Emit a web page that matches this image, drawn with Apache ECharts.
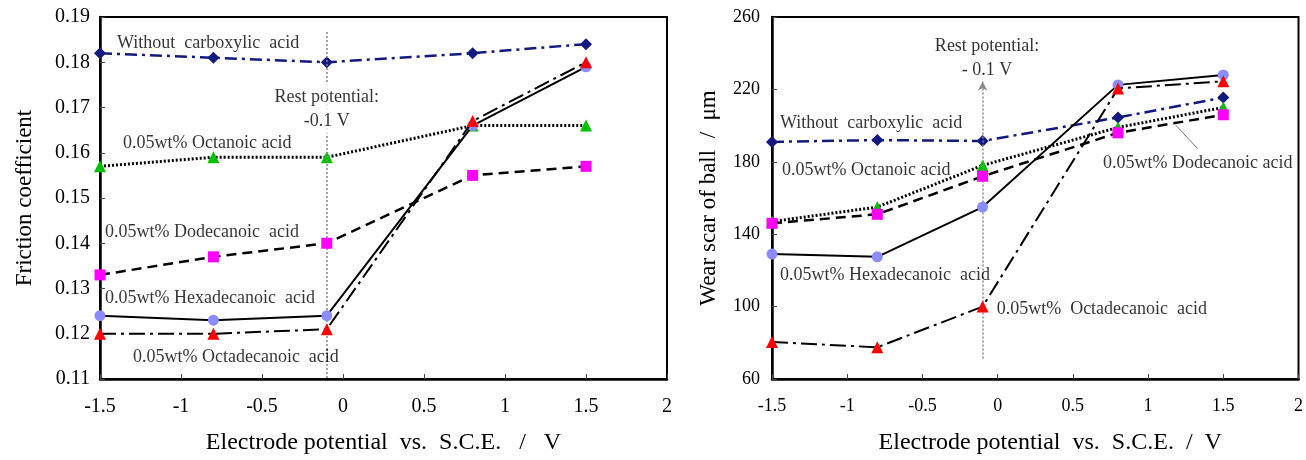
<!DOCTYPE html>
<html>
<head>
<meta charset="utf-8">
<script src="https://cdn.jsdelivr.net/npm/echarts@6/dist/echarts.min.js"></script>
<style>
html, body { margin: 0; padding: 0; background: #fff; }
#chart { width: 1306px; height: 460px; }
</style>
</head>
<body>
<div id="chart"></div>
<script>
// electrode potentials (V vs. S.C.E.)
const potentials = [-1.5, -0.8, -0.1, 0.8, 1.5];

// friction coefficient
const fricWithout = [0.182, 0.181, 0.180, 0.182, 0.184];
const fricOctanoic = [0.157, 0.159, 0.159, 0.166, 0.166];
const fricDodecanoic = [0.133, 0.137, 0.140, 0.155, 0.157];
const fricHexadecanoic = [0.124, 0.123, 0.124, 0.166, 0.179];
const fricOctadecanoic = [0.120, 0.120, 0.121, 0.167, 0.180];

// wear scar of ball (um)
const wearWithout = [191, 192, 191.5, 204.5, 215.5];
const wearOctanoic = [147, 155, 178, 199, 210];
const wearDodecanoic = [146, 151, 172, 196, 206];
const wearHexadecanoic = [129, 127.5, 155, 222.5, 228];
const wearOctadecanoic = [80.5, 77.5, 100, 220.5, 224.5];

const xTicks = [-1.5, -1, -0.5, 0, 0.5, 1, 1.5, 2];
const fricTicks = [0.11, 0.12, 0.13, 0.14, 0.15, 0.16, 0.17, 0.18, 0.19];
const wearTicks = [60, 100, 140, 180, 220, 260];

const restPotential = -0.1;

// annotation anchors [x, y, text, align] in data units
const fricNotes = [
  [-1.407, 0.1843, 'Without  carboxylic  acid', 'left'],
  [-0.1, 0.1697, 'Rest potential:\n-0.1 V', 'center'],
  [-1.370, 0.1621, '0.05wt% Octanoic acid', 'left'],
  [-1.481, 0.1425, '0.05wt% Dodecanoic  acid', 'left'],
  [-1.481, 0.1279, '0.05wt% Hexadecanoic  acid', 'left'],
  [-1.309, 0.1148, '0.05wt% Octadecanoic  acid', 'left']
];
const wearNotes = [
  [-0.07, 237.4, 'Rest potential:\n- 0.1 V', 'center'],
  [-1.46, 201.2, 'Without  carboxylic  acid', 'left'],
  [-1.447, 175.4, '0.05wt% Octanoic acid', 'left'],
  [-1.46, 117.1, '0.05wt% Hexadecanoic  acid', 'left'],
  [-0.02, 98.3, '0.05wt%  Octadecanoic  acid', 'left'],
  [0.687, 179.1, '0.05wt% Dodecanoic acid', 'left']
];
const dodecLeader = [[1.185, 200.2], [1.33, 187.2]];
const restArrow = [[restPotential, 71.3], [restPotential, 224.4]];
const restDotted = [[restPotential, 0.1867], [restPotential, 0.11]];

const FONT = 'Liberation Serif';
const NAVY = '#121a80';

const pair = arr => potentials.map((x, i) => [x, arr[i]]);

const styles = [
  { symbol: 'diamond', size: 12, fill: NAVY, line: NAVY, type: [12, 5, 3, 5], width: 2.5 },
  { symbol: 'triangle', size: 12, fill: '#00c000', line: '#000', type: [2, 2], width: 3 },
  { symbol: 'rect', size: 11, fill: '#ff00ff', line: '#000', type: [10, 6], width: 2.5 },
  { symbol: 'circle', size: 11, fill: '#8a8cff', line: '#000', type: 'solid', width: 2 },
  { symbol: 'triangle', size: 12, fill: '#ff0000', line: '#000', type: [16, 5, 3, 5], width: 2 }
];

const makeLines = (sets, idx) => sets.map((arr, i) => ({
  type: 'line',
  xAxisIndex: idx,
  yAxisIndex: idx,
  data: pair(arr),
  symbol: styles[i].symbol,
  symbolSize: styles[i].size,
  showSymbol: true,
  z: 3 + i,
  itemStyle: { color: styles[i].fill, borderColor: styles[i].fill, borderWidth: 0, opacity: 1 },
  lineStyle: { color: styles[i].line, width: styles[i].width, type: styles[i].type }
}));

const makeNotes = (notes, idx, withBg) => ({
  type: 'scatter',
  xAxisIndex: idx,
  yAxisIndex: idx,
  symbolSize: 0,
  z: 20,
  silent: true,
  data: notes.map(n => ({
    value: [n[0], n[1]],
    label: {
      show: true,
      position: 'inside',
      align: n[3],
      verticalAlign: 'middle',
      formatter: n[2],
      fontFamily: FONT,
      fontSize: 18,
      lineHeight: 24,
      color: '#000',
      textBorderWidth: 0,
      backgroundColor: (withBg && n[3] === 'center') ? '#fff' : 'transparent',
      padding: [1, 2]
    }
  }))
});

const xAxisBase = idx => ({
  type: 'value',
  gridIndex: idx,
  min: -1.5,
  max: 2,
  interval: 0.5,
  name: idx === 0 ? 'Electrode potential  vs.  S.C.E.   /   V' : 'Electrode potential  vs.  S.C.E.  /  V',
  nameLocation: 'middle',
  nameGap: 52,
  nameTextStyle: { fontFamily: FONT, fontSize: 24, color: '#000', padding: idx === 0 ? 0 : [0, 0, 0, 30] },
  axisLine: { show: true, onZero: false, lineStyle: { color: '#000', width: 2.5 } },
  axisTick: { show: true, inside: true, length: 5, lineStyle: { color: '#444' }, customValues: xTicks },
  axisLabel: { fontFamily: FONT, fontSize: idx === 0 ? 20 : 18, color: '#000', margin: 18, customValues: xTicks },
  splitLine: { show: false }
});

const chart = echarts.init(document.getElementById('chart'));
chart.setOption({
  animation: false,
  backgroundColor: '#fff',
  grid: [
    { left: 100, top: 17, width: 567, height: 367, show: true, borderColor: '#000', borderWidth: 2, backgroundColor: 'transparent' },
    { left: 772, top: 17, width: 528, height: 371, show: true, borderColor: '#000', borderWidth: 2, backgroundColor: 'transparent' }
  ],
  xAxis: [xAxisBase(0), xAxisBase(1)],
  yAxis: [
    {
      type: 'value',
      gridIndex: 0,
      min: 0.11,
      max: 0.19,
      name: 'Friction coefficient',
      nameLocation: 'middle',
      nameGap: 64,
      nameTextStyle: { fontFamily: FONT, fontSize: 23, color: '#000' },
      axisLine: { show: true, onZero: false, lineStyle: { color: '#000', width: 2.5 } },
      axisTick: { show: true, inside: true, length: 5, lineStyle: { color: '#444' }, customValues: fricTicks },
      axisLabel: { fontFamily: FONT, fontSize: 20, color: '#000', margin: 10, customValues: fricTicks, formatter: v => v.toFixed(2) },
      splitLine: { show: false }
    },
    {
      type: 'value',
      gridIndex: 1,
      min: 60,
      max: 260,
      interval: 40,
      name: 'Wear scar of ball  /  \u03bcm',
      nameLocation: 'middle',
      nameGap: 52,
      nameTextStyle: { fontFamily: FONT, fontSize: 23, color: '#000' },
      axisLine: { show: true, onZero: false, lineStyle: { color: '#000', width: 2.5 } },
      axisTick: { show: true, inside: true, length: 5, lineStyle: { color: '#444' }, customValues: wearTicks },
      axisLabel: { fontFamily: FONT, fontSize: 18, color: '#000', margin: 12, customValues: wearTicks },
      splitLine: { show: false }
    }
  ],
  series: [
    // guide lines at the rest potential
    {
      type: 'line', xAxisIndex: 0, yAxisIndex: 0, data: [], z: 1,
      markLine: {
        silent: true, symbol: 'none', label: { show: false },
        lineStyle: { color: '#888', type: [2, 2], width: 1.5 },
        data: [[{ coord: restDotted[0] }, { coord: restDotted[1] }]]
      }
    },
    {
      type: 'line', xAxisIndex: 1, yAxisIndex: 1, data: [], z: 1,
      markLine: {
        silent: true, symbol: ['none', 'arrow'], symbolSize: [7, 9], label: { show: false },
        lineStyle: { color: '#888', type: [2, 2], width: 1.5 },
        data: [
          [{ coord: restArrow[0] }, { coord: restArrow[1] }],
          [{ coord: dodecLeader[0], lineStyle: { type: 'solid', width: 1, color: '#777' }, symbol: 'none' },
           { coord: dodecLeader[1], symbol: 'none' }]
        ]
      }
    },
    ...makeLines([fricWithout, fricOctanoic, fricDodecanoic, fricHexadecanoic, fricOctadecanoic], 0),
    ...makeLines([wearWithout, wearOctanoic, wearDodecanoic, wearHexadecanoic, wearOctadecanoic], 1),
    makeNotes(fricNotes, 0, true),
    makeNotes(wearNotes, 1, false)
  ]
});
</script>
</body>
</html>
